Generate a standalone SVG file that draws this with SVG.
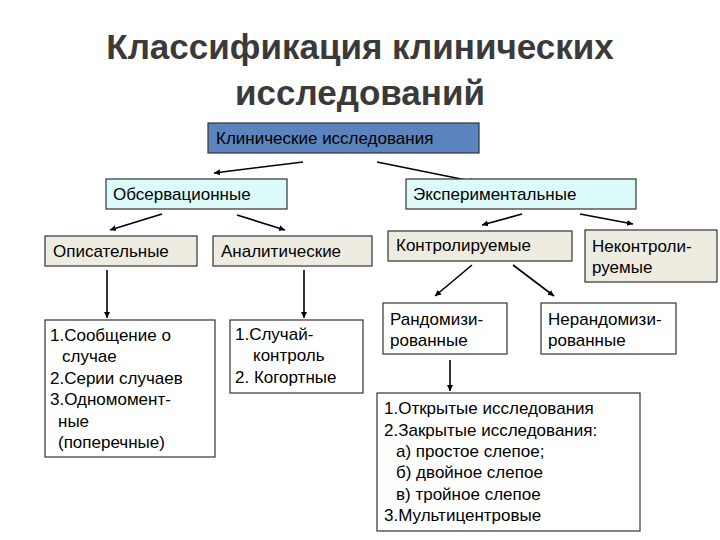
<svg xmlns="http://www.w3.org/2000/svg" width="720" height="540" viewBox="0 0 720 540">
<style>
.t{font-family:"Liberation Sans",Arial,sans-serif;font-size:17px;fill:#000}
.title{font-family:"Liberation Sans",Arial,sans-serif;font-size:35px;font-weight:bold;fill:#3a3a3a;text-anchor:middle}
.b{stroke:#333;stroke-width:1.2}
.blue{fill:#5b84bf}
.cyan{fill:#dcfafa}
.beige{fill:#eeece1}
.white{fill:#fff}
.c{stroke:#000;stroke-width:1.6;fill:none;marker-end:url(#ah)}
</style>
<defs>
<marker id="ah" markerWidth="8" markerHeight="8" refX="6" refY="4" orient="auto" markerUnits="userSpaceOnUse">
<path d="M0,1 L6,4 L0,7 z" fill="#000"/>
</marker>
</defs>
<rect width="720" height="540" fill="#fff"/>
<text class="title" x="360" y="59">Классификация клинических</text>
<text class="title" x="360" y="105">исследований</text>

<g id="connectors">
<line class="c" x1="303" y1="162" x2="214" y2="173"/>
<line class="c" x1="377" y1="162" x2="476" y2="182"/>
<line class="c" x1="162" y1="214" x2="110" y2="230"/>
<line class="c" x1="237" y1="215" x2="285" y2="230"/>
<line class="c" x1="522" y1="214" x2="482" y2="225"/>
<line class="c" x1="580" y1="214" x2="633" y2="224"/>
<line class="c" x1="107" y1="270" x2="107" y2="318"/>
<line class="c" x1="304" y1="270" x2="304" y2="318"/>
<line class="c" x1="472" y1="265" x2="435" y2="296"/>
<line class="c" x1="513" y1="265" x2="554" y2="296"/>
<line class="c" x1="450" y1="360" x2="450" y2="391"/>
</g>

<g id="n-clin"><rect class="b blue" x="208" y="123" width="271" height="30"/><text class="t" x="216" y="144">Клинические  исследования</text></g>
<g id="n-obs"><rect class="b cyan" x="106" y="179" width="181" height="30"/><text class="t" x="113" y="200">Обсервационные</text></g>
<g id="n-exp"><rect class="b cyan" x="406" y="179" width="230" height="30"/><text class="t" x="413" y="200">Экспериментальные</text></g>
<g id="n-desc"><rect class="b beige" x="45" y="236" width="152" height="30"/><text class="t" x="53" y="257">Описательные</text></g>
<g id="n-anal"><rect class="b beige" x="213" y="236" width="159" height="30"/><text class="t" x="221" y="257">Аналитические</text></g>
<g id="n-ctrl"><rect class="b beige" x="388" y="231" width="184" height="30"/><text class="t" x="396" y="251">Контролируемые</text></g>
<g id="n-unctrl"><rect class="b beige" x="585" y="230" width="132" height="52"/><text class="t" x="592" y="252">Неконтроли-</text><text class="t" x="592" y="273">руемые</text></g>
<g id="n-desc-list"><rect class="b white" x="45" y="320" width="170" height="137"/>
<text class="t" x="50" y="341">1.Сообщение о</text>
<text class="t" x="62" y="362">случае</text>
<text class="t" x="50" y="384">2.Серии случаев</text>
<text class="t" x="50" y="405">3.Одномомент-</text>
<text class="t" x="58" y="427">ные</text>
<text class="t" x="58" y="448">(поперечные)</text></g>
<g id="n-anal-list"><rect class="b white" x="230" y="320" width="133" height="73"/>
<text class="t" x="235" y="340">1.Случай-</text>
<text class="t" x="253" y="361">контроль</text>
<text class="t" x="235" y="383">2. Когортные</text></g>
<g id="n-rand"><rect class="b white" x="383" y="303" width="124" height="51"/><text class="t" x="390" y="325">Рандомизи-</text><text class="t" x="390" y="346">рованные</text></g>
<g id="n-nonrand"><rect class="b white" x="541" y="303" width="135" height="51"/><text class="t" x="548" y="325">Нерандомизи-</text><text class="t" x="548" y="346">рованные</text></g>
<g id="n-rand-list"><rect class="b white" x="377" y="393" width="263" height="138"/>
<text class="t" x="384" y="414">1.Открытые исследования</text>
<text class="t" x="384" y="436">2.Закрытые исследования:</text>
<text class="t" x="396" y="457">а) простое слепое;</text>
<text class="t" x="396" y="478">б) двойное слепое</text>
<text class="t" x="396" y="500">в) тройное слепое</text>
<text class="t" x="384" y="521">3.Мультицентровые</text></g>
</svg>
